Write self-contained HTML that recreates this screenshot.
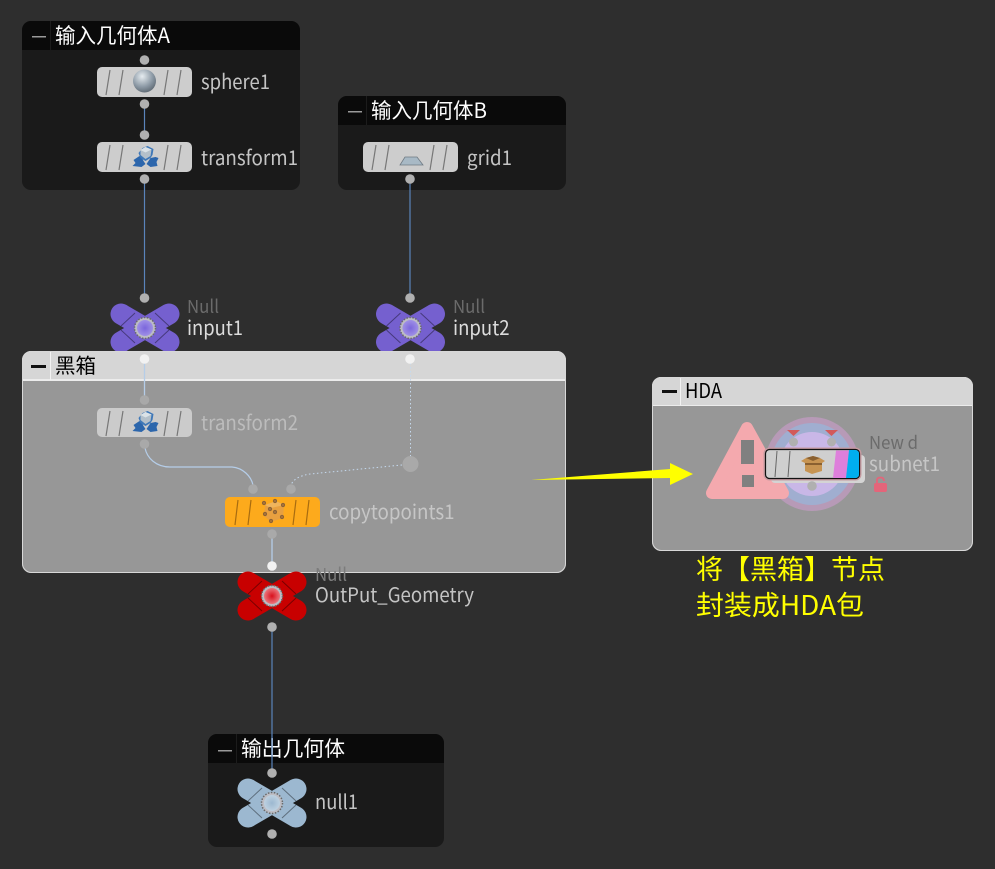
<!DOCTYPE html>
<html><head><meta charset="utf-8">
<style>
html,body{margin:0;padding:0;background:#2e2e2e;width:995px;height:869px;overflow:hidden}
svg{display:block}
text{font-family:"Noto Sans CJK SC","Liberation Sans",sans-serif}
.l{font-size:20px;fill:#c4c4c4}
.h{font-size:21px;fill:#fff}
.k{font-size:20.500px;fill:#000}
.n{font-size:18px;fill:#6b6b6b}
.d{fill:#b0b0b0}
.e{fill:#a9a9a9}
</style></head><body>
<svg width="995" height="869" viewBox="0 0 995 869" xmlns="http://www.w3.org/2000/svg">
<defs>
<g id="stripes" fill="none" stroke="#777" stroke-width="1.200">
<path d="M13 3L9 28M26 3L22 28M71 3L67 28M84 3L80 28"/>
</g>
<g id="xm" fill="none" stroke="#000" stroke-opacity=".4" stroke-width="1">
<path d="M-24-2L-10-15M24-2L10-15M-24 2L-10 15M24 2L10 15"/>
</g>
<g id="xf">
<path d="M-24-14L24 14M24-14L-24 14" fill="none" stroke-width="21" stroke-linecap="round"/>
</g>
<g id="tf">
<path d="M-11 3L-5-1L-2 2L-1 4L1 7L-3 10L-12 9L-9 6Z" fill="#2c66ac"/>
<path d="M11 0L14 1L12 5L13 9L6 10L2 7L4 4L6 1Z" fill="#2c66ac"/>
<path d="M-6-4L-2-9L3-11L9-8L8-2L6 1L1 4L-4 1Z" fill="#3f78b8"/>
<path d="M-4-7L1-10L7-7.500L6-1L1 2L-4-2Z" fill="#b4c0ca"/>
<path d="M-4-7L1-4.500L7-7.500L1-10Z" fill="#dbe2e7"/>
</g>
<g id="ring"><circle r="10.500" fill="#bdbdc4" stroke="#6a6a6a" stroke-width="1.500" stroke-dasharray="1.500 1.500"/></g>
<radialGradient id="sp" cx=".4" cy=".3" r=".75"><stop offset="0" stop-color="#e6ecf0"/><stop offset=".6" stop-color="#8d9aa6"/><stop offset="1" stop-color="#5b6670"/></radialGradient>
<radialGradient id="pu" r=".6"><stop offset="0" stop-color="#7b66dc"/><stop offset="1" stop-color="#a698e8"/></radialGradient>
<radialGradient id="re" r=".6"><stop offset="0" stop-color="#d8101c"/><stop offset="1" stop-color="#ef8a90"/></radialGradient>
<radialGradient id="bl" r=".6"><stop offset="0" stop-color="#9cb8d0"/><stop offset="1" stop-color="#c4d6e4"/></radialGradient>
<clipPath id="cA"><rect x="22" y="21" width="278" height="169" rx="9"/></clipPath>
<clipPath id="cB"><rect x="338" y="96" width="228" height="94" rx="9"/></clipPath>
<clipPath id="cO"><rect x="208" y="734" width="236" height="113" rx="9"/></clipPath>
<clipPath id="cK"><rect x="22" y="351" width="544" height="222" rx="9"/></clipPath>
<clipPath id="cH"><rect x="652" y="377" width="321" height="174" rx="9"/></clipPath>
</defs>

<!-- Box A -->
<g clip-path="url(#cA)">
<rect x="22" y="21" width="278" height="169" fill="#1a1a1a"/>
<rect x="22" y="21" width="278" height="29" fill="#0a0a0a"/>
<rect x="50" y="21" width="1" height="29" fill="#1c1c1c"/>
</g>
<rect x="32" y="36" width="14" height="1.500" fill="#9a9a9a"/>
<text class="h" x="55" y="43" textLength="115" lengthAdjust="spacingAndGlyphs">输入几何体A</text>

<!-- Box B -->
<g clip-path="url(#cB)">
<rect x="338" y="96" width="228" height="94" fill="#1a1a1a"/>
<rect x="338" y="96" width="228" height="29" fill="#0a0a0a"/>
<rect x="366" y="96" width="1" height="29" fill="#1c1c1c"/>
</g>
<rect x="348" y="111" width="14" height="1.500" fill="#9a9a9a"/>
<text class="h" x="371" y="118" textLength="116" lengthAdjust="spacingAndGlyphs">输入几何体B</text>

<!-- Output box -->
<g clip-path="url(#cO)">
<rect x="208" y="734" width="236" height="113" fill="#1a1a1a"/>
<rect x="208" y="734" width="236" height="29" fill="#0a0a0a"/>
<rect x="236" y="734" width="1" height="29" fill="#1c1c1c"/>
</g>
<rect x="218" y="750" width="14" height="1.500" fill="#9a9a9a"/>
<text class="h" x="241" y="756" textLength="104" lengthAdjust="spacingAndGlyphs">输出几何体</text>

<!-- Blue wires on dark -->
<path d="M144.500 104V135M144.500 179V298M410 179V298M272 627V773" stroke="#5a84bb" stroke-width="1.200" fill="none"/>

<!-- Input nulls -->
<use href="#xf" x="145" y="328" stroke="#7560cf"/>
<use href="#xf" x="410.500" y="328" stroke="#7560cf"/>
<use href="#xm" x="145" y="328"/>
<use href="#xm" x="410.500" y="328"/>
<use href="#ring" x="145" y="328"/>
<use href="#ring" x="410.500" y="328"/>
<circle cx="145" cy="328" r="8" fill="url(#pu)"/>
<circle cx="410.500" cy="328" r="8" fill="url(#pu)"/>
<text class="n" x="187" y="313" textLength="32" lengthAdjust="spacingAndGlyphs">Null</text>
<text class="l" x="187" y="335" style="fill:#dcdcdc" textLength="56" lengthAdjust="spacingAndGlyphs">input1</text>
<text class="n" x="453" y="313" textLength="32" lengthAdjust="spacingAndGlyphs">Null</text>
<text class="l" x="453" y="335" style="fill:#dcdcdc" textLength="56.500" lengthAdjust="spacingAndGlyphs">input2</text>

<!-- Black box -->
<g clip-path="url(#cK)">
<rect x="22" y="351" width="544" height="222" fill="#979797"/>
<rect x="22" y="351" width="544" height="29" fill="#d6d6d6"/>
<rect x="22" y="379" width="544" height="2" fill="#ececec"/>
<rect x="50" y="351" width="1" height="29" fill="#f2f2f2"/>
</g>
<rect x="22.500" y="351.500" width="543" height="221" rx="9" fill="none" stroke="#d8d8d8" stroke-width="1"/>
<rect x="31" y="365" width="15" height="3" fill="#111"/>
<text class="k" x="55" y="373">黑箱</text>

<path d="M144.500 359V400M272 534V566" stroke="#b5cde8" stroke-width="1.300" fill="none"/>
<path d="M145 448C147 458 156 467 170 467H232C243 468 251 476 253 485" stroke="#b5cde8" stroke-width="1.200" fill="none"/>
<path d="M410.500 359V460" stroke="#c5d9ee" stroke-width="1" stroke-dasharray="1.500 2.500" fill="none"/>
<path d="M402 465L310 474C298 476 293 480 291 485" stroke="#c5d9ee" stroke-width="1" stroke-dasharray="1.500 2.500" fill="none"/>

<!-- Grey nodes on dark -->
<rect x="97" y="67" width="95" height="30" rx="5" fill="#cdcdcd"/>
<use href="#stripes" x="97" y="67"/>
<circle cx="144.500" cy="81" r="11.500" fill="url(#sp)"/>
<rect x="97" y="142" width="95" height="30" rx="5" fill="#cdcdcd"/>
<use href="#stripes" x="97" y="142"/>
<use href="#tf" x="144.500" y="157"/>
<rect x="363" y="142" width="95" height="30" rx="5" fill="#cdcdcd"/>
<use href="#stripes" x="363" y="142"/>
<path d="M400 165L405 157H417L423 165Z" fill="#a8b9c5" stroke="#6f7a83" stroke-width=".8"/>

<text class="l" x="201" y="89" textLength="69" lengthAdjust="spacingAndGlyphs">sphere1</text>
<text class="l" x="201" y="165" textLength="97" lengthAdjust="spacingAndGlyphs">transform1</text>
<text class="l" x="467" y="165" textLength="45" lengthAdjust="spacingAndGlyphs">grid1</text>

<rect x="97" y="408" width="95" height="29" rx="5" fill="#cbcbcb"/>
<use href="#stripes" x="97" y="408"/>
<use href="#tf" x="144.500" y="422"/>
<text class="l" x="201" y="430" style="fill:#bcbcbc" textLength="97" lengthAdjust="spacingAndGlyphs">transform2</text>

<rect x="225" y="497" width="95" height="30" rx="5" fill="#fdaa1c"/>
<g fill="none" stroke="#a86c10" stroke-width="1.200"><path d="M238 500L235 525M251 500L248 525M296 500L293 525M309 500L306 525"/></g>
<path d="M265 505L276 501L284 505L283 518L271 522L264 516Z" fill="#e8a040"/>
<path d="M265 505L271 508L284 505L276 501Z" fill="#f0b45c"/>
<g fill="#a5713a" stroke="#7c5a34" stroke-width=".6"><circle cx="264" cy="503" r="1.800"/><circle cx="275" cy="501" r="1.800"/><circle cx="283" cy="505" r="1.800"/><circle cx="282" cy="517" r="1.800"/><circle cx="271" cy="521" r="1.800"/><circle cx="265" cy="514" r="1.800"/><circle cx="270" cy="509" r="1.800"/><circle cx="275" cy="512" r="1.800"/></g>
<text class="l" x="329" y="519" style="fill:#c6c6c6" textLength="125.500" lengthAdjust="spacingAndGlyphs">copytopoints1</text>

<!-- Output null -->
<use href="#xf" x="272" y="596" stroke="#c80000"/>
<use href="#xm" x="272" y="596"/>
<use href="#ring" x="272" y="596"/>
<circle cx="272" cy="596" r="8" fill="url(#re)"/>
<text class="n" x="315" y="581" style="fill:#7c7c7c" textLength="32" lengthAdjust="spacingAndGlyphs">Null</text>
<text class="l" x="315" y="602" textLength="159" lengthAdjust="spacingAndGlyphs">OutPut_Geometry</text>

<!-- null1 -->
<use href="#xf" x="272" y="803" stroke="#9cb8d0"/>
<use href="#xm" x="272" y="803"/>
<use href="#ring" x="272" y="803"/>
<circle cx="272" cy="803" r="8" fill="url(#bl)"/>
<text class="l" x="315" y="809" textLength="43" lengthAdjust="spacingAndGlyphs">null1</text>

<!-- Dots -->
<g class="d">
<circle cx="144.500" cy="60" r="4.800"/><circle cx="144.500" cy="104" r="4.800"/>
<circle cx="144.500" cy="135" r="4.800"/><circle cx="144.500" cy="179" r="4.800"/>
<circle cx="410" cy="179" r="4.800"/><circle cx="144.500" cy="298" r="4.800"/>
<circle cx="410" cy="298" r="4.800"/><circle cx="272" cy="627" r="4.800"/>
<circle cx="272" cy="773" r="4.800"/><circle cx="272" cy="834" r="4.800"/>
</g>
<g class="e">
<circle cx="144.500" cy="400" r="4.800"/><circle cx="144.500" cy="444" r="4.800"/>
<circle cx="253" cy="489" r="4.800"/><circle cx="291" cy="489" r="4.800"/>
<circle cx="272" cy="534" r="4.800"/><circle cx="410.500" cy="464" r="8"/>
</g>
<g fill="#f2f2f2">
<circle cx="144.500" cy="359" r="4.800"/><circle cx="410" cy="359" r="4.800"/><circle cx="272" cy="566" r="4.800"/>
</g>

<!-- HDA box -->
<g clip-path="url(#cH)">
<rect x="652" y="377" width="321" height="174" fill="#979797"/>
<rect x="652" y="377" width="321" height="28" fill="#d6d6d6"/>
<rect x="652" y="405" width="321" height="1" fill="#ececec"/>
<rect x="680" y="377" width="1" height="28" fill="#f2f2f2"/>
</g>
<rect x="652.500" y="377.500" width="320" height="173" rx="9" fill="none" stroke="#d8d8d8" stroke-width="1"/>
<rect x="662" y="390" width="15" height="3" fill="#111"/>
<text class="k" x="685" y="398" textLength="37" lengthAdjust="spacingAndGlyphs">HDA</text>

<circle cx="812" cy="464" r="47" fill="#b79ab7"/>
<circle cx="812" cy="464" r="41" fill="#a0aed0"/>
<circle cx="812" cy="464" r="32" fill="#c9b7e7"/>
<path d="M787 430H800L793.500 436ZM825 430H838L831.500 436Z" fill="#d25a5a"/>
<circle cx="793.500" cy="442" r="4.500" fill="#b0b0b0"/>
<circle cx="831.500" cy="442" r="4.500" fill="#b0b0b0"/>

<path d="M747 428L712 493H783Z" fill="#f4a9ae" stroke="#f4a9ae" stroke-width="12" stroke-linejoin="round"/>
<rect x="741" y="440" width="13" height="24" fill="#808080"/>
<rect x="742" y="475" width="12" height="12" fill="#808080"/>

<rect x="771" y="455" width="94" height="28" rx="4" fill="#d4d4d4"/>
<rect x="763.500" y="447.500" width="98" height="33" rx="6" fill="#c59aa0"/>
<rect x="765.500" y="449.500" width="94" height="29" rx="4" fill="#cfcfcf" stroke="#111" stroke-width="1.200"/>
<path d="M836 450.500H849L846 478H833Z" fill="#de7fdb"/>
<path d="M849 450H855Q859 450 859 454V474Q859 478 855 478H846Z" fill="#00aeef"/>
<path d="M777 451L775 477M790 451L788 477" stroke="#666" stroke-width="1" fill="none"/>
<path d="M806 458L813 456L820 458L825 461L822 463V471L812 474L805 471V463L801 461Z" fill="#c79452"/>
<path d="M805 463H822V465H805ZM806 458L813 461L820 458L813 456Z" fill="#8a6030"/>
<circle cx="812" cy="486" r="4.800" fill="#b0b0b0"/>

<text class="n" x="869" y="449" textLength="49" lengthAdjust="spacingAndGlyphs">New d</text>
<text class="l" x="869" y="471" style="fill:#c6c6c6" textLength="71" lengthAdjust="spacingAndGlyphs">subnet1</text>
<path d="M877 483V480Q877 477.500 880.500 477.500Q884 477.500 884 481" fill="none" stroke="#e4657a" stroke-width="1.800"/>
<rect x="874" y="483" width="13" height="9" rx="2" fill="#e4657a"/>

<!-- Yellow arrow -->
<path d="M531 480L670 469V463L693 474L670 485V478Z" fill="#ffff00"/>
<text x="696" y="579" font-size="27" fill="#ffff00">将【黑箱】节点</text>
<text x="696" y="615" font-size="27" fill="#ffff00" textLength="168" lengthAdjust="spacingAndGlyphs">封装成HDA包</text>
</svg>
</body></html>
